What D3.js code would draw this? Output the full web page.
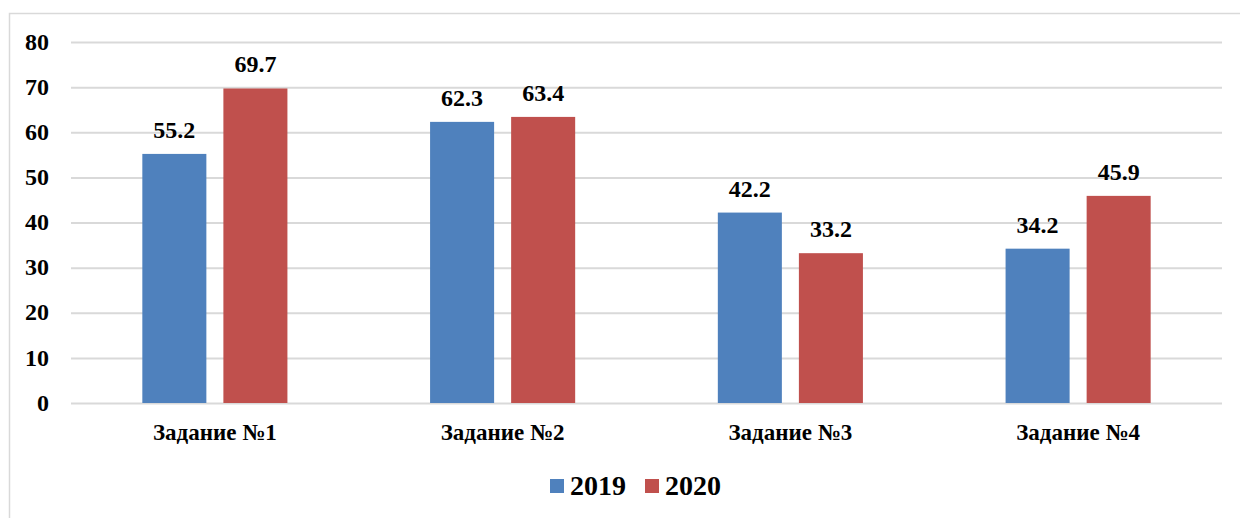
<!DOCTYPE html>
<html><head><meta charset="utf-8">
<script src="https://cdn.jsdelivr.net/npm/d3@7"></script>
</head><body style="margin:0;background:#fff"><svg id="c" width="1240" height="518" style="display:block"></svg>
<script>
const categories = ["Задание №1","Задание №2","Задание №3","Задание №4"];
const seriesNames = ["2019","2020"];
const values2019 = [55.2, 62.3, 42.2, 34.2];
const values2020 = [69.7, 63.4, 33.2, 45.9];
const yTicks = [0,10,20,30,40,50,60,70,80];
const colors = ["#4f81bd","#c0504d"];
const FONT = "'Liberation Serif', Tinos, 'Times New Roman', serif";

function serif(sel, size){
  sel.style("font-family", FONT, "important").style("font-weight","bold","important")
     .style("font-size", size+"px", "important").attr("fill","#000");
  return sel;
}

const svg = d3.select("#c");
svg.append("rect").attr("x",9.5).attr("y",13.5).attr("width",1260).attr("height",540)
  .attr("fill","#fff").attr("stroke","#d9d9d9").attr("stroke-width",1.5);

const pL=71, pR=1222, pT=42, pB=403;
const x = d3.scaleBand().domain(categories).range([pL,pR]).paddingInner(0).paddingOuter(0);
const y = d3.scaleLinear().domain([0,80]).range([pB,pT]);
const xs = d3.scaleBand().domain(seriesNames).range([0,x.bandwidth()]).paddingInner(0.21).paddingOuter(0.88);

const gy = svg.append("g").attr("transform",`translate(${pL},0)`)
  .call(d3.axisLeft(y).tickValues(yTicks).tickSize(-(pR-pL)).tickFormat(d3.format("d")));
gy.attr("font-family",null).attr("font-size",null);
gy.select(".domain").remove();
gy.selectAll(".tick line").attr("stroke","#d9d9d9").attr("stroke-width",2);
serif(gy.selectAll(".tick text").attr("x",-22).attr("dy","0.3em"), 24);

const data = categories.map((c,i)=>({c, vals:[values2019[i], values2020[i]]}));
const g = svg.append("g");
data.forEach(d=>{
  d.vals.forEach((v,j)=>{
    const bx = x(d.c)+xs(seriesNames[j]);
    g.append("rect").attr("x",bx).attr("y",y(v)).attr("width",xs.bandwidth()).attr("height",y(0)-y(v)).attr("fill",colors[j]);
    serif(g.append("text").attr("x",bx+xs.bandwidth()/2).attr("y",y(v)-16).attr("text-anchor","middle"), 24)
      .text(v.toFixed(1));
  });
});

const gx = svg.append("g").attr("transform",`translate(0,${pB})`)
  .call(d3.axisBottom(x).tickSize(0));
gx.attr("font-family",null).attr("font-size",null);
gx.select(".domain").remove();
serif(gx.selectAll(".tick text").attr("y",37).attr("dy",0), 23);

const legend = svg.append("g");
const lx=[550,645];
seriesNames.forEach((s,i)=>{
  legend.append("rect").attr("x",lx[i]).attr("y",479).attr("width",14).attr("height",14).attr("fill",colors[i]);
  serif(legend.append("text").attr("x",lx[i]+20).attr("y",495), 28).text(s);
});
</script></body></html>
